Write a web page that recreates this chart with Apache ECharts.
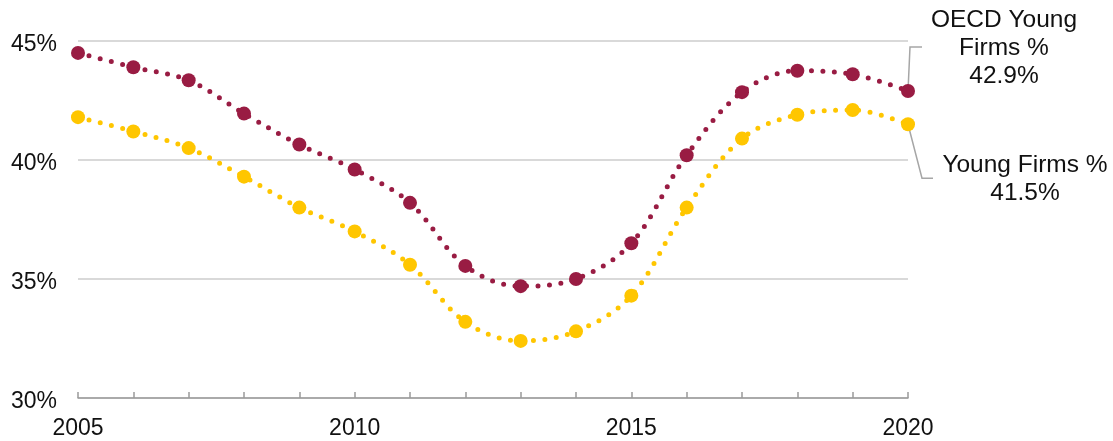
<!DOCTYPE html>
<html>
<head>
<meta charset="utf-8">
<script src="https://cdn.jsdelivr.net/npm/echarts@6/dist/echarts.min.js"></script>
<style>
  html, body { margin: 0; padding: 0; background: #fff; }
  #chart { width: 1113px; height: 441px; }
</style>
</head>
<body>
<div id="chart"></div>
<script>
// Share of young firms, 2005–2020
const years = [2005, 2006, 2007, 2008, 2009, 2010, 2011, 2012, 2013, 2014, 2015, 2016, 2017, 2018, 2019, 2020];
const oecdYoung = [44.5, 43.9, 43.35, 41.95, 40.65, 39.6, 38.2, 35.55, 34.7, 35.0, 36.5, 40.2, 42.85, 43.75, 43.6, 42.9];
const youngFirms = [41.8, 41.2, 40.5, 39.3, 38.0, 37.0, 35.6, 33.2, 32.4, 32.8, 34.3, 38.0, 40.9, 41.9, 42.1, 41.5];
const yTicks = [30, 35, 40, 45];

const seriesNames = ['OECD Young Firms %', 'Young Firms %'];
const endLabels = [['OECD Young', 'Firms %'], ['Young Firms %']];
const colors = ['#991C43', '#FFC600'];

const FONT = '"Liberation Sans", Arial, sans-serif';
const FS = 23;
const FS_CALLOUT = 24.5;
const chart = echarts.init(document.getElementById('chart'));

function lineSeries(name, values, color) {
  return {
    name: name,
    type: 'line',
    data: years.map((y, i) => [y, values[i]]),
    smooth: 0.35,
    symbol: 'circle',
    symbolSize: 14,
    itemStyle: { color: color },
    lineStyle: { color: color, width: 5, type: [0, 11.5], cap: 'round' },
    emphasis: { disabled: true },
    animation: false
  };
}

chart.setOption({
  animation: false,
  grid: { left: 78, right: 205, top: 41, bottom: 43 },
  xAxis: {
    type: 'value',
    min: years[0],
    max: years[years.length - 1],
    interval: 5,
    axisLine: { show: true, lineStyle: { color: '#9a9a9a', width: 1.5 } },
    axisTick: { show: true, inside: true, length: 6, lineStyle: { color: '#9a9a9a', width: 1.5 } },
    minorTick: { show: true, splitNumber: 5, length: 6, lineStyle: { color: '#9a9a9a', width: 1.5 } },
    splitLine: { show: false },
    axisLabel: { color: '#111', fontSize: FS, fontFamily: FONT, margin: 19, formatter: v => String(v) }
  },
  yAxis: {
    type: 'value',
    min: yTicks[0],
    max: yTicks[yTicks.length - 1],
    interval: 5,
    axisLine: { show: false },
    axisTick: { show: false },
    splitLine: { show: true, lineStyle: { color: '#d9d9d9', width: 2 } },
    axisLabel: {
      color: '#111', fontSize: FS, fontFamily: FONT, margin: 21,
      verticalAlign: 'top', lineHeight: 23, padding: [-8, 0, 0, 0],
      formatter: v => v + '%'
    }
  },
  series: [
    lineSeries(seriesNames[0], oecdYoung, colors[0]),
    lineSeries(seriesNames[1], youngFirms, colors[1])
  ]
});

// End-of-line callouts with leader lines, anchored to the final data points
const last = years.length - 1;
const pOecd = chart.convertToPixel({ seriesIndex: 0 }, [years[last], oecdYoung[last]]);
const pYoung = chart.convertToPixel({ seriesIndex: 1 }, [years[last], youngFirms[last]]);
const leader = { stroke: '#a6a6a6', lineWidth: 1.5, fill: null };
const textStyle = (t, x, y) => ({
  type: 'text', silent: true,
  style: { text: t, x: x, y: y, fill: '#111', font: FS_CALLOUT + 'px ' + FONT, textAlign: 'center', textVerticalAlign: 'middle', lineHeight: 28 }
});

chart.setOption({
  graphic: [
    { type: 'polyline', silent: true, z: 0,
      shape: { points: [[pOecd[0], pOecd[1]], [pOecd[0] + 2, pOecd[1] - 44], [pOecd[0] + 14, pOecd[1] - 44]] },
      style: leader },
    { type: 'polyline', silent: true, z: 0,
      shape: { points: [[pYoung[0], pYoung[1]], [pYoung[0] + 14, pYoung[1] + 54], [pYoung[0] + 25, pYoung[1] + 54]] },
      style: leader },
    textStyle(endLabels[0].join('\n') + '\n' + oecdYoung[last].toFixed(1) + '%', pOecd[0] + 96, pOecd[1] - 43),
    textStyle(endLabels[1].join('\n') + '\n' + youngFirms[last].toFixed(1) + '%', pYoung[0] + 117, pYoung[1] + 55)
  ]
});
</script>
</body>
</html>
